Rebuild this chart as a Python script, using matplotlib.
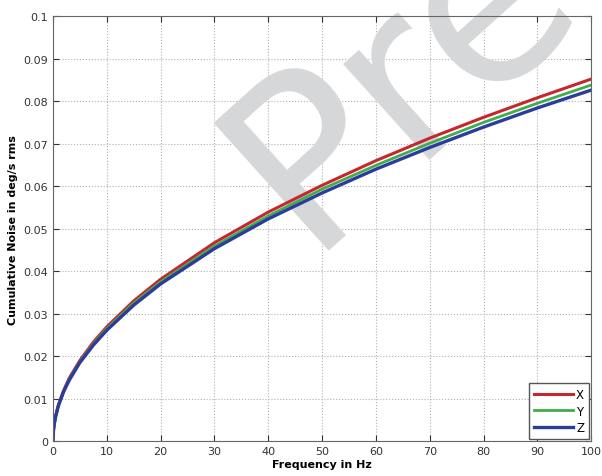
import matplotlib.pyplot as plt

freq = [0, 0.1, 0.25, 0.5, 1, 2, 3, 5, 7.5, 10, 15, 20, 30, 40, 50, 60, 70, 80, 90, 100]
noise_x = [0, .0027, .0043, .0060, .0085, .0120, .0148, .0190, .0233, .0269, .0330, .0381,
           .0467, .0539, .0602, .0660, .0713, .0762, .0808, .0852]
noise_y = [0, .0026, .0042, .0059, .0084, .0118, .0145, .0187, .0229, .0265, .0325, .0375,
           .0459, .0530, .0593, .0649, .0701, .0750, .0795, .0838]
noise_z = [0, .0026, .0041, .0058, .0083, .0117, .0143, .0185, .0226, .0261, .0320, .0370,
           .0453, .0523, .0584, .0640, .0691, .0739, .0784, .0826]

fig = plt.figure(figsize=(6.02, 4.77), dpi=100)
ax = fig.add_axes([0.088, 0.073, 0.894, 0.891])
ax.set_axisbelow(True)

# watermark, under the curves
ax.text(0.47, 0.45, 'Preliminary', transform=ax.transAxes, fontsize=170, color='#d6d7d9',
        rotation=42, ha='left', va='baseline', rotation_mode='anchor', zorder=1)

ax.plot(freq, noise_x, color='#c8262e', lw=2.2, label='X', zorder=3)
ax.plot(freq, noise_y, color='#3fae4a', lw=2.0, label='Y', zorder=3)
ax.plot(freq, noise_z, color='#2c3c9c', lw=2.4, label='Z', zorder=3)

ax.set_xlim(0, 100)
ax.set_ylim(0, 0.1)
ax.set_xticks(range(0, 101, 10))
ax.set_yticks([i / 100 for i in range(11)])
ax.set_yticklabels(['0'] + ['%.2f' % (i / 100) for i in range(1, 10)] + ['0.1'])
ax.grid(True, linestyle=':', color='#b0b0b0', lw=0.8)
ax.tick_params(direction='in', labelsize=8, colors='#333333', top=True, right=True, length=4)
for s in ax.spines.values():
    s.set_color('#666666')
    s.set_zorder(4)

ax.set_xlabel('Frequency in Hz', fontsize=8, fontweight='bold', labelpad=2)
ax.set_ylabel('Cumulative Noise in deg/s rms', fontsize=8, fontweight='bold', labelpad=4)

leg = ax.legend(loc='lower right', fontsize=8.5, handlelength=3.3, handletextpad=0.3,
                labelspacing=0.3, fancybox=False, edgecolor='#555555', framealpha=1,
                borderaxespad=0.2, borderpad=0.4)
leg.set_zorder(5)

fig.savefig('out.png', dpi=100)
